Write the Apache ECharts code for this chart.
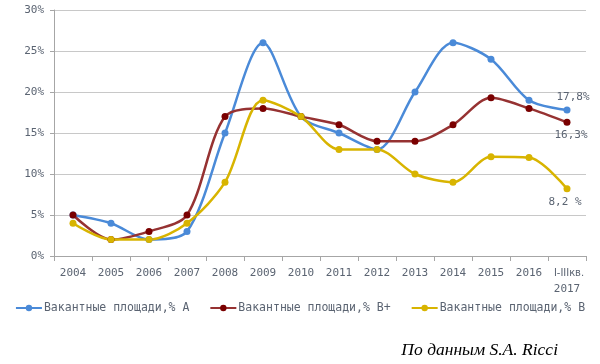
<!DOCTYPE html>
<html><head><meta charset="utf-8">
<script src="https://cdn.jsdelivr.net/npm/echarts@6/dist/echarts.min.js"></script>
<style>html,body{margin:0;padding:0;background:#fff}#c{width:600px;height:364px}</style>
</head><body><div id="c"></div>
<script>
const categories = ['2004','2005','2006','2007','2008','2009','2010','2011','2012','2013','2014','2015','2016','I-IIIкв.\n2017'];
const seriesNames = ['Вакантные площади,% А','Вакантные площади,% В+','Вакантные площади,% В'];
const valuesA = [5, 4, 2, 3, 15, 26, 17, 15, 13, 20, 26, 24, 19, 17.8];
const valuesBplus = [5, 2, 3, 5, 17, 18, 17, 16, 14, 14, 16, 19.3, 18, 16.3];
const valuesB = [4, 2, 2, 4, 9, 19, 17, 13, 13, 10, 9, 12.1, 12, 8.2];
const endLabels = ['17,8%', '16,3%', '8,2 %'];
const yTicks = [0, 5, 10, 15, 20, 25, 30];

const font = 'DejaVu Sans Mono';
const txt = '#5b6472';
function mk(name, data, lineColor, markColor, label, pos, off) {
  return {
    name, type: 'line', data, smooth: 0.3, symbol: 'circle', symbolSize: 7,
    lineStyle: {color: lineColor, width: 2.5},
    itemStyle: {color: markColor},
    label: {
      show: true, position: pos, color: txt, fontFamily: font, fontSize: 11, distance: 4, offset: off,
      formatter: p => p.dataIndex === data.length - 1 ? label : ''
    }
  };
}
const chart = echarts.init(document.getElementById('c'));
chart.setOption({
  animation: false,
  grid: {left: 54, right: 14, top: 10, bottom: 108},
  legend: {
    top: 297, left: 'center', itemGap: 20, itemWidth: 26, itemHeight: 8,
    textStyle: {color: txt, fontFamily: font, fontSize: 11.5, padding: [0,0,0,-3]},
    data: seriesNames
  },
  graphic: [{type: 'text', right: 42, top: 341, style: {text: 'По данным S.A. Ricci', fontFamily: 'Liberation Serif', fontStyle: 'italic', fontSize: 17.5, fill: '#000'}}],
  xAxis: {
    type: 'category', data: categories, boundaryGap: true,
    axisLine: {lineStyle: {color: '#a6a6a6'}},
    axisTick: {show: true, length: 5, lineStyle: {color: '#a6a6a6'}},
    axisLabel: {
      color: txt, fontFamily: font, fontSize: 11, margin: 9, lineHeight: 16, interval: 0,
      formatter: (v, i) => i === categories.length - 1 ? '{s|' + v.split('\n')[0] + '}\n' + v.split('\n')[1] : v,
      rich: {s: {fontFamily: 'DejaVu Sans Condensed', fontSize: 11, color: txt, padding: [0, 0, 0, 4]}}
    }
  },
  yAxis: {
    type: 'value', min: 0, max: 30, interval: 5,
    axisLine: {show: true, lineStyle: {color: '#a6a6a6'}},
    axisTick: {show: true, length: 4, lineStyle: {color: '#a6a6a6'}},
    splitLine: {lineStyle: {color: '#c8c8c8'}},
    axisLabel: {color: txt, fontFamily: font, fontSize: 11, margin: 10, formatter: v => yTicks.includes(v) ? v + '%' : ''}
  },
  series: [
    mk(seriesNames[0], valuesA, '#4a8ad8', '#4a8ad8', endLabels[0], 'top', [6, 0]),
    mk(seriesNames[1], valuesBplus, '#963232', '#7a0000', endLabels[1], 'bottom', [4, 0]),
    mk(seriesNames[2], valuesB, '#d8b400', '#d8b400', endLabels[2], 'bottom', [-2, 0])
  ]
});
</script></body></html>
